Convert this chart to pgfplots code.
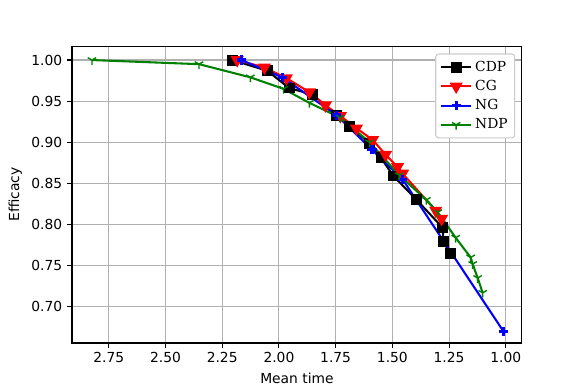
\documentclass[border=0pt]{standalone}
\usepackage{fontspec}
\setmainfont{DejaVu Sans}
\newfontfamily\legfont{DejaVu Serif}
\usepackage{pgfplots}
\pgfplotsset{compat=1.18}
\usetikzlibrary{plotmarks}

\begin{document}
\begin{tikzpicture}[x=1pt,y=1pt]
\path[use as bounding box] (-52.03pt,-32.52pt) rectangle (367.9pt,247.9pt);
\begin{axis}[
    at={(0,0)}, anchor=south west,
    scale only axis,
    width=325.2pt, height=214.6pt,
    x dir=reverse,
    xmin=0.929, xmax=2.912,
    ymin=0.656, ymax=1.017,
    xtick={1.00,1.25,1.50,1.75,2.00,2.25,2.50,2.75},
    ytick={0.70,0.75,0.80,0.85,0.90,0.95,1.00},
    /pgf/number format/.cd, fixed, fixed zerofill, precision=2, assume math mode=true,
    /pgfplots/.cd,
    grid=major,
    grid style={color=black!31, line width=0.8pt},
    tick align=outside,
    tick pos=left,
    major tick length=3.5pt,
    tick style={black, line width=0.8pt},
    axis line style={line width=0.8pt},
    ticklabel style={font=\fontsize{10}{12}\selectfont},
    xlabel={Mean time}, ylabel={Efficacy},
    label style={font=\fontsize{10}{12}\selectfont},
    legend style={at={(0.985,0.975)}, anchor=north east,
        font=\legfont\fontsize{10}{12}\selectfont,
        draw=black!20, rounded corners=2pt, line width=0.8pt,
        row sep=1pt, inner sep=3pt},
    legend cell align=left,
    legend image code/.code={\draw[mark repeat=2,mark phase=2,#1]
        plot coordinates {(0pt,0pt)(11pt,0pt)(22pt,0pt)};},
]
\addplot[black, line width=1.5pt, mark=square*, mark size=3.2pt] coordinates {
 (2.206,1.000) (2.051,0.987) (1.955,0.966) (1.852,0.958) (1.745,0.933)
 (1.690,0.919) (1.600,0.899) (1.550,0.881) (1.495,0.859) (1.393,0.830)
 (1.278,0.796) (1.275,0.779) (1.245,0.765)
};
\addlegendentry{CDP}
\addplot[red, line width=1.5pt, mark=triangle*, mark size=4pt, mark options={rotate=180}] coordinates {
 (2.184,1.000) (2.064,0.991) (1.967,0.978) (1.866,0.961) (1.795,0.945)
 (1.729,0.932) (1.658,0.917) (1.587,0.903) (1.530,0.885) (1.477,0.870)
 (1.455,0.862) (1.309,0.817) (1.283,0.807)
};
\addlegendentry{CG}
\addplot[blue, line width=1.5pt, mark=+, mark size=3.3pt, mark options={line width=2.4pt}] coordinates {
 (2.166,1.000) (1.985,0.979) (1.746,0.933) (1.590,0.891)
 (1.455,0.855) (1.010,0.670)
};
\addlegendentry{NG}
\addplot[black!50!green, line width=1.5pt, mark=Mercedes star, mark size=3.5pt, mark options={rotate=180, line width=1pt}] coordinates {
 (2.824,1.000) (2.352,0.995) (2.126,0.979) (1.980,0.965) (1.866,0.948)
 (1.730,0.930) (1.600,0.900) (1.470,0.860) (1.350,0.830) (1.300,0.815)
 (1.221,0.784) (1.155,0.760) (1.146,0.752) (1.124,0.735) (1.102,0.717)
};
\addlegendentry{NDP}
\end{axis}
\end{tikzpicture}
\end{document}
